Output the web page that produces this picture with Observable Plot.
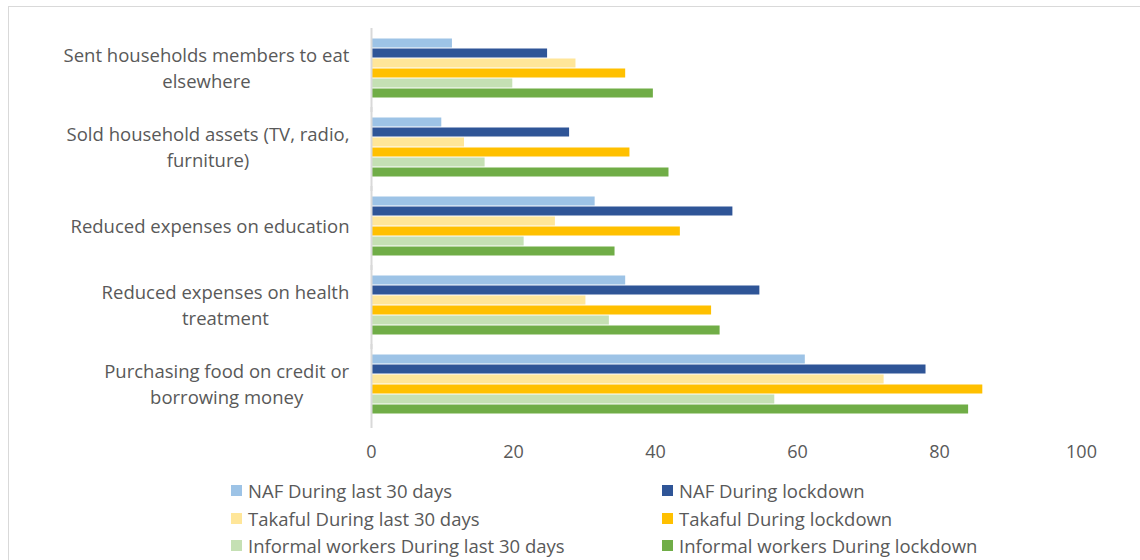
<!DOCTYPE html>
<html>
<head>
<meta charset="utf-8">
<script src="https://cdn.jsdelivr.net/npm/d3@7"></script>
<script src="https://cdn.jsdelivr.net/npm/@observablehq/plot@0.6"></script>
<style>
  html, body { margin: 0; padding: 0; background: #fff; overflow: hidden; }
  body { width: 1140px; height: 560px; position: relative; font-family: "Open Sans", sans-serif; color: #595959; }
  #frame { position: absolute; left: 8px; top: 6px; width: 1400px; height: 800px; border: 1.5px solid #d9d9d9; pointer-events: none; }
  #chart { position: absolute; left: 0; top: 0; }
  .legend { position: absolute; left: 231px; top: 477px; display: grid; grid-template-columns: 431px 431px; grid-auto-rows: 27.5px; font-size: 18.5px; }
  .legend .item { display: flex; align-items: center; white-space: nowrap; }
  .legend .sw { width: 11px; height: 11px; margin-right: 6px; flex: none; }
</style>
</head>
<body>
<div id="frame"></div>
<div id="chart"></div>
<div class="legend" id="legend"></div>
<script>
// Coping strategies, top to bottom
const categories = [
  "Sent households members to eat elsewhere",
  "Sold household assets (TV, radio, furniture)",
  "Reduced expenses on education",
  "Reduced expenses on health treatment",
  "Purchasing food on credit or borrowing money"
];
const categoryLabels = [
  "Sent households members to eat\nelsewhere",
  "Sold household assets (TV, radio,\nfurniture)",
  "Reduced expenses on education",
  "Reduced expenses on health\ntreatment",
  "Purchasing food on credit or\nborrowing money"
];

const series = [
  "NAF During last 30 days",
  "NAF During lockdown",
  "Takaful During last 30 days",
  "Takaful During lockdown",
  "Informal workers During last 30 days",
  "Informal workers During lockdown"
];
const colors = ["#9dc3e6", "#2f5597", "#ffe699", "#ffc000", "#c5e0b4", "#70ad47"];

// Percent of households, one value per category (same order as categories)
const nafLast30       = [11.4,  9.9, 31.5, 35.8, 61.1];
const nafLockdown     = [24.8, 27.9, 50.9, 54.7, 78.1];
const takafulLast30   = [28.8, 13.1, 25.9, 30.2, 72.2];
const takafulLockdown = [35.8, 36.4, 43.5, 47.9, 86.1];
const informalLast30  = [19.9, 16.0, 21.5, 33.5, 56.8];
const informalLockdown= [39.7, 41.9, 34.3, 49.1, 84.1];

const xTicks = [0, 20, 40, 60, 80, 100];

const seriesValues = [nafLast30, nafLockdown, takafulLast30, takafulLockdown, informalLast30, informalLockdown];
const rows = [];
series.forEach((s, i) => {
  categories.forEach((c, j) => rows.push({category: c, series: s, value: seriesValues[i][j]}));
});
const labelOf = new Map(categories.map((c, i) => [c, categoryLabels[i]]));

const plot = Plot.plot({
  width: 1140,
  height: 470,
  marginLeft: 371,
  marginRight: 59,
  marginTop: 28,
  marginBottom: 46,
  style: {fontFamily: "'Open Sans', sans-serif", fontSize: "18px", color: "#595959", background: "transparent"},
  x: {domain: [0, 100], label: null},
  y: {domain: series, axis: null, padding: 0},
  fy: {domain: categories, label: null, paddingInner: 0.24, paddingOuter: 0.12},
  color: {domain: series, range: colors},
  marks: [
    Plot.barX(rows, {fy: "category", y: "series", x: "value", fill: "series", insetTop: 0.5, insetBottom: 0.5}),
    Plot.ruleX([0], {stroke: "#d9d9d9", strokeWidth: 2, insetTop: -10, insetBottom: -14}),
    Plot.axisX({ticks: xTicks, tickSize: 0, tickPadding: 31, fontSize: 18, label: null}),
    Plot.axisFy({anchor: "left", tickSize: 0, tickPadding: 22, fontSize: 18.5, lineHeight: 1.42, dy: -2, label: null, tickFormat: d => labelOf.get(d)})
  ]
});

document.getElementById("chart").append(plot);

// Center the lines of each wrapped category label within its right-aligned block
plot.querySelectorAll('g[aria-label="fy-axis tick label"] text').forEach(t => {
  const w = t.getBBox().width;
  t.setAttribute("text-anchor", "middle");
  t.setAttribute("transform", `translate(${-w / 2},0) ` + (t.getAttribute("transform") || ""));
});

// Legend in two columns
const legend = document.getElementById("legend");
series.forEach((s, i) => {
  const item = document.createElement("div");
  item.className = "item";
  const sw = document.createElement("span");
  sw.className = "sw";
  sw.style.background = plot.scale("color").apply(s);
  const label = document.createElement("span");
  label.textContent = s;
  item.append(sw, label);
  legend.append(item);
});
</script>
</body>
</html>
